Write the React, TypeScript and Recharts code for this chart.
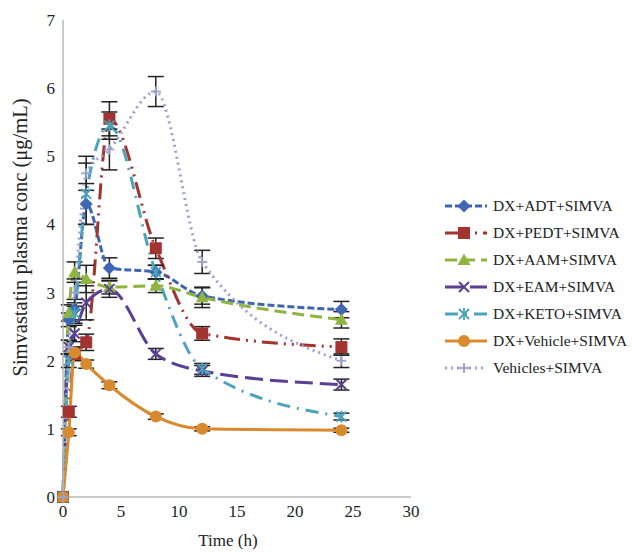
import { LineChart, Line, XAxis, YAxis, ErrorBar } from 'recharts';

const times = [0, 0.5, 1, 2, 4, 8, 12, 24];

const adt = [0, 2.6, 2.75, 4.3, 3.36, 3.3, 2.95, 2.75];
const pedt = [0, 1.25, 2.1, 2.27, 5.55, 3.65, 2.4, 2.2];
const aam = [0, 2.7, 3.3, 3.2, 3.08, 3.1, 2.93, 2.6];
const eam = [0, 2.2, 2.4, 2.85, 3.05, 2.1, 1.85, 1.65];
const keto = [0, 2.0, 2.7, 4.45, 5.45, 3.3, 1.88, 1.18];
const vehicle = [0, 0.95, 2.12, 1.95, 1.64, 1.18, 1.0, 0.98];
const vehicles = [0, 2.2, 3.0, 4.75, 5.1, 5.95, 3.45, 2.0];

const adtErr = [0, 0.1, 0.15, 0.3, 0.15, 0.1, 0.12, 0.12];
const pedtErr = [0, 0.08, 0.1, 0.12, 0.25, 0.15, 0.1, 0.12];
const aamErr = [0, 0.12, 0.15, 0.2, 0.1, 0.1, 0.15, 0.12];
const eamErr = [0, 0.1, 0.12, 0.25, 0.12, 0.08, 0.08, 0.08];
const ketoErr = [0, 0.1, 0.15, 0.45, 0.2, 0.1, 0.08, 0.05];
const vehicleErr = [0, 0.05, 0.08, 0.06, 0.05, 0.04, 0.03, 0.03];
const vehiclesErr = [0, 0.1, 0.2, 0.25, 0.3, 0.22, 0.17, 0.1];

const xTicks = [0, 5, 10, 15, 20, 25, 30];
const yTicks = [0, 1, 2, 3, 4, 5, 6, 7];

const FONT = '"Liberation Serif", "Times New Roman", serif';

type Series = {
    key: string;
    name: string;
    values: number[];
    errs: number[];
    color: string;
    dash?: string;
    marker: string;
};

const series: Series[] = [
    { key: 'adt', name: 'DX+ADT+SIMVA', values: adt, errs: adtErr, color: '#3f66b5', dash: '7 3', marker: 'diamond' },
    { key: 'pedt', name: 'DX+PEDT+SIMVA', values: pedt, errs: pedtErr, color: '#a2332f', dash: '16 6 2 6 2 6', marker: 'square' },
    { key: 'aam', name: 'DX+AAM+SIMVA', values: aam, errs: aamErr, color: '#8fb43f', dash: '12 6', marker: 'triangle' },
    { key: 'eam', name: 'DX+EAM+SIMVA', values: eam, errs: eamErr, color: '#5b3f92', dash: '18 7', marker: 'cross' },
    { key: 'keto', name: 'DX+KETO+SIMVA', values: keto, errs: ketoErr, color: '#4ba4bb', dash: '13 7 2 7', marker: 'star' },
    { key: 'veh', name: 'DX+Vehicle+SIMVA', values: vehicle, errs: vehicleErr, color: '#d98a2e', marker: 'circle' },
    { key: 'vehs', name: 'Vehicles+SIMVA', values: vehicles, errs: vehiclesErr, color: '#9aa2cf', dash: '2 4', marker: 'plus' },
];

const data = times.map((t, i) => {
    const row: Record<string, number> = { time: t };
    series.forEach((s) => {
        row[s.key] = s.values[i];
        row[s.key + 'Err'] = s.errs[i];
    });
    return row;
});

function Marker({ type, cx, cy, color }: { type: string; cx: number; cy: number; color: string }) {
    const r = 5;
    switch (type) {
        case 'diamond':
            return <polygon points={`${cx},${cy - 6.5} ${cx + 6.5},${cy} ${cx},${cy + 6.5} ${cx - 6.5},${cy}`} fill={color} />;
        case 'square':
            return <rect x={cx - 6} y={cy - 6} width={12} height={12} fill={color} />;
        case 'triangle':
            return <polygon points={`${cx},${cy - 6.5} ${cx + 6.5},${cy + 5} ${cx - 6.5},${cy + 5}`} fill={color} />;
        case 'cross':
            return (
                <g stroke={color} strokeWidth={2}>
                    <line x1={cx - r} y1={cy - r} x2={cx + r} y2={cy + r} />
                    <line x1={cx - r} y1={cy + r} x2={cx + r} y2={cy - r} />
                </g>
            );
        case 'star':
            return (
                <g stroke={color} strokeWidth={1.8}>
                    <line x1={cx - r} y1={cy - r} x2={cx + r} y2={cy + r} />
                    <line x1={cx - r} y1={cy + r} x2={cx + r} y2={cy - r} />
                    <line x1={cx} y1={cy - r - 1} x2={cx} y2={cy + r + 1} />
                </g>
            );
        case 'circle':
            return <circle cx={cx} cy={cy} r={6} fill={color} />;
        case 'plus':
        default:
            return (
                <g stroke={color} strokeWidth={1.8}>
                    <line x1={cx - r} y1={cy} x2={cx + r} y2={cy} />
                    <line x1={cx} y1={cy - r} x2={cx} y2={cy + r} />
                </g>
            );
    }
}

function makeDot(s: Series) {
    return (props: any) => {
        const { cx, cy, index } = props;
        if (cx == null || cy == null) return <g key={`${s.key}-${index}`} />;
        return (
            <g key={`${s.key}-${index}`}>
                <Marker type={s.marker} cx={cx} cy={cy} color={s.color} />
            </g>
        );
    };
}

function YLabel(props: any) {
    const vb = props.viewBox || { x: 0, y: 0, width: 0, height: 0 };
    const x = vb.x + 2;
    const y = vb.y + vb.height / 2 - 21;
    return (
        <text
            x={x}
            y={y}
            transform={`rotate(-90, ${x}, ${y})`}
            textAnchor="middle"
            dominantBaseline="central"
            fill="#222"
            fontSize={20.5}
            fontFamily={FONT}
        >
            Simvastatin plasma conc (μg/mL)
        </text>
    );
}

function XLabel(props: any) {
    const vb = props.viewBox || { x: 0, y: 0, width: 0, height: 0 };
    return (
        <text x={vb.x + vb.width / 2 - 9} y={vb.y + vb.height - 3} textAnchor="middle" fill="#222" fontSize={17} fontFamily={FONT}>
            Time (h)
        </text>
    );
}

function LegendBox() {
    return (
        <div style={{ position: 'absolute', left: 444, top: 192, fontFamily: FONT, fontSize: 15.5, color: '#222' }}>
            {series.map((s) => (
                <div key={s.key} style={{ display: 'flex', alignItems: 'center', height: 27, whiteSpace: 'nowrap' }}>
                    <svg width={44} height={14} style={{ marginRight: 5 }}>
                        <line x1={1} y1={7} x2={43} y2={7} stroke={s.color} strokeWidth={3} strokeDasharray={s.dash} />
                        <Marker type={s.marker} cx={20} cy={7} color={s.color} />
                    </svg>
                    <span>{s.name}</span>
                </div>
            ))}
        </div>
    );
}

export default function App() {
    const tickStyle = { fill: '#222', fontSize: 17, fontFamily: FONT };
    return (
        <div style={{ position: 'absolute', left: 0, top: 0, width: 633, height: 553, background: '#fff' }}>
            <LineChart width={633} height={553} data={data} margin={{ top: 20, right: 222, left: 18, bottom: 4 }}>
                <XAxis
                    dataKey="time"
                    type="number"
                    domain={[0, 30]}
                    ticks={xTicks}
                    height={52}
                    tick={tickStyle}
                    tickLine={false}
                    axisLine={{ stroke: '#b8b8b8', strokeWidth: 1.5 }}
                    label={<XLabel />}
                />
                <YAxis
                    type="number"
                    domain={[0, 7]}
                    ticks={yTicks}
                    width={45}
                    tick={tickStyle}
                    tickLine={false}
                    axisLine={{ stroke: '#b8b8b8', strokeWidth: 1.5 }}
                    label={<YLabel />}
                />
                {series.map((s) => (
                    <Line
                        key={s.key}
                        dataKey={s.key}
                        name={s.name}
                        type="monotone"
                        stroke={s.color}
                        strokeWidth={3}
                        strokeDasharray={s.dash}
                        dot={makeDot(s)}
                        activeDot={false}
                        isAnimationActive={false}
                    >
                        <ErrorBar dataKey={s.key + 'Err'} direction="y" width={8} stroke="#222" strokeWidth={1.5} />
                    </Line>
                ))}
            </LineChart>
            <LegendBox />
        </div>
    );
}
